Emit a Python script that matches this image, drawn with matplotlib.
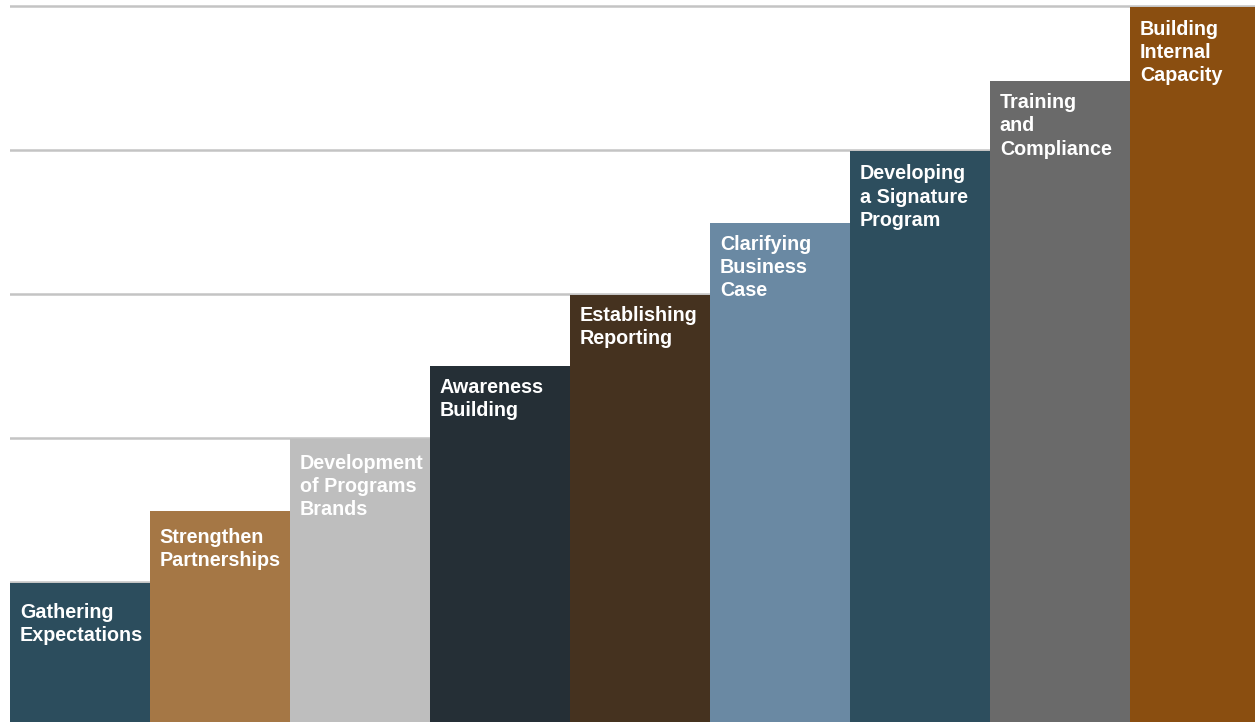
import matplotlib.pyplot as plt

plt.rcParams['font.family'] = ['Liberation Sans', 'DejaVu Sans']

stages = [
    "Gathering\nExpectations",
    "Strengthen\nPartnerships",
    "Development\nof Programs\nBrands",
    "Awareness\nBuilding",
    "Establishing\nReporting",
    "Clarifying\nBusiness\nCase",
    "Developing\na Signature\nProgram",
    "Training\nand\nCompliance",
    "Building\nInternal\nCapacity",
]
levels = [0.99, 1.49, 1.99, 2.5, 2.99, 3.49, 3.99, 4.48, 4.99]
colors = ["#2c4d5d", "#a57745", "#bebebe", "#252f36", "#45321f",
          "#6a89a3", "#2d4e5e", "#6a6a6a", "#8a4e10"]
# gap between bar top and its label, in data units
label_pad = [0.135, 0.115, 0.1, 0.085, 0.075, 0.08, 0.09, 0.085, 0.085]

fig = plt.figure(figsize=(12.55, 7.22), dpi=100)
ax = fig.add_axes([10 / 1255, 0, 1245 / 1255, 1])

x = list(range(len(stages)))
ax.bar(x, levels, width=1.0, color=colors, zorder=2)

for xi, lvl, label, pad in zip(x, levels, stages, label_pad):
    ax.text(xi - 0.43, lvl - pad, label, ha="left", va="top",
            color="white", fontsize=14.2, fontweight="bold",
            linespacing=1.28, zorder=3)

ax.set_xlim(-0.5, 8.393)
ax.set_ylim(0.028, 5.042)
ax.set_yticks([1, 2, 3, 4, 5])
ax.grid(axis="y", color="#c4c4c4", linewidth=1.8, zorder=0)
ax.set_xticks([])
ax.tick_params(axis="y", length=0, labelleft=False)
for s in ax.spines.values():
    s.set_visible(False)

fig.savefig("out.png", dpi=100)
